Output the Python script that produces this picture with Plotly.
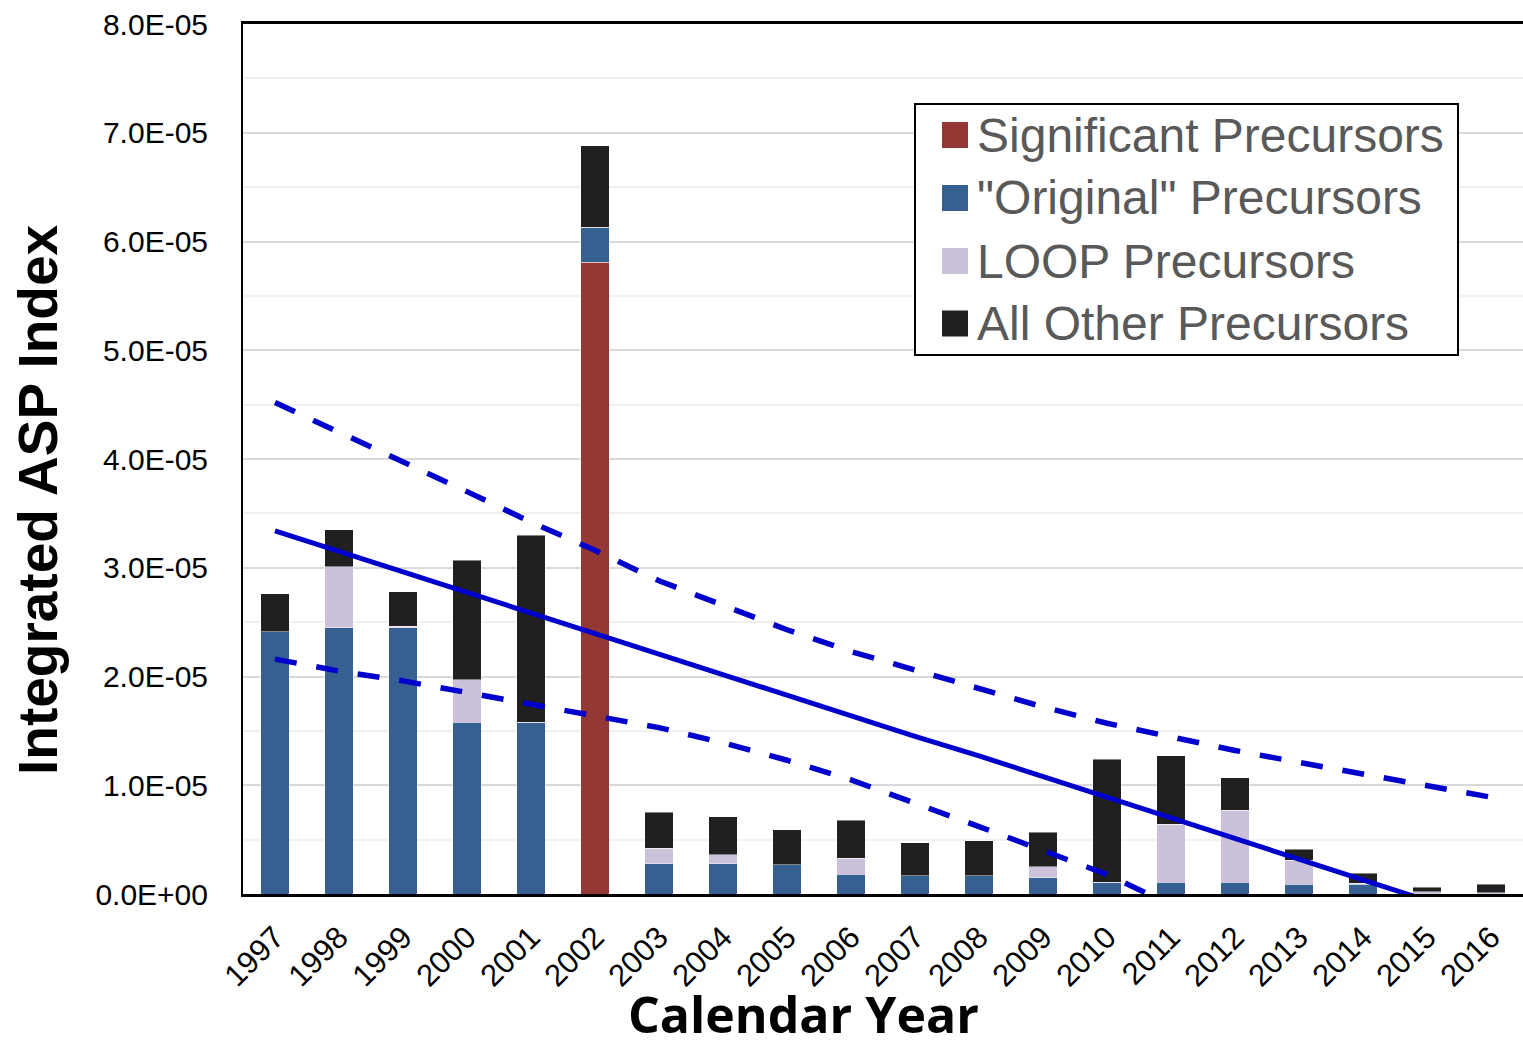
import plotly.graph_objects as go

# Calendar years on the category axis
years = [str(y) for y in range(1997, 2017)]

# Integrated ASP index contributions by precursor type (units of 1E-05)
significant = [0, 0, 0, 0, 0, 5.81, 0, 0, 0, 0, 0, 0, 0, 0, 0, 0, 0, 0, 0, 0]
original = [2.41, 2.45, 2.45, 1.58, 1.58, 0.32, 0.28, 0.28, 0.27, 0.18,
            0.17, 0.17, 0.15, 0.11, 0.11, 0.11, 0.09, 0.09, 0.0, 0.0]
loop = [0.0, 0.56, 0.01, 0.39, 0.0, 0.0, 0.14, 0.08, 0.0, 0.15,
        0.0, 0.0, 0.10, 0.0, 0.53, 0.66, 0.22, 0.01, 0.02, 0.01]
other = [0.35, 0.34, 0.32, 1.10, 1.72, 0.75, 0.33, 0.35, 0.32, 0.35,
         0.30, 0.32, 0.32, 1.13, 0.63, 0.30, 0.10, 0.09, 0.04, 0.08]

# Regression trend and its confidence bounds (units of 1E-05)
trend = [3.34, 3.15, 2.96, 2.77, 2.59, 2.40, 2.21, 2.02, 1.83, 1.64,
         1.45, 1.27, 1.08, 0.89, 0.70, 0.51, 0.32, 0.13, -0.06]
upper = [4.52, 4.25, 3.97, 3.70, 3.42, 3.16, 2.88, 2.65, 2.43, 2.23,
         2.06, 1.88, 1.72, 1.57, 1.44, 1.32, 1.21, 1.10, 1.00, 0.89]
lower = [2.16, 2.05, 1.96, 1.85, 1.75, 1.63, 1.53, 1.39, 1.23, 1.05,
         0.84, 0.62, 0.40, 0.18, -0.10]

# Y axis tick values and labels
y_ticks = [i * 1e-5 for i in range(9)]
y_ticktext = [f"{v:.1E}" for v in y_ticks]

SCALE = 1e-5
series = [
    ("Significant Precursors", significant, "#953735"),
    ('"Original" Precursors', original, "#376092"),
    ("LOOP Precursors", loop, "#ccc1da"),
    ("All Other Precursors", other, "#202020"),
]

fig = go.Figure()
for name, vals, color in series:
    fig.add_trace(go.Bar(
        x=years, y=[v * SCALE for v in vals], name=name,
        marker=dict(color=color, line=dict(color="rgba(255,255,255,0.45)", width=1)),
        width=0.44, showlegend=False,
    ))

line_color = "#0000cc"
dash_style = "22px,20px"
fig.add_trace(go.Scatter(x=years[:len(trend)], y=[v * SCALE for v in trend],
                         mode="lines", line=dict(color=line_color, width=5),
                         showlegend=False))
fig.add_trace(go.Scatter(x=years[:len(upper)], y=[v * SCALE for v in upper],
                         mode="lines", line=dict(color=line_color, width=5.5, dash=dash_style),
                         showlegend=False))
fig.add_trace(go.Scatter(x=years[:len(lower)], y=[v * SCALE for v in lower],
                         mode="lines", line=dict(color=line_color, width=5.5, dash=dash_style),
                         showlegend=False))

# Plot-area geometry in pixels, used to place the legend box
W, H = 1523, 1052
L, R, T, B = 243, 0, 24, 158
pw, ph = W - L - R, H - T - B


def px_x(x):
    return (x - L) / pw


def px_y(y):
    return (H - B - y) / ph


shapes = [dict(type="rect", xref="paper", yref="paper",
               x0=px_x(915), x1=px_x(1458), y0=px_y(355), y1=px_y(104),
               line=dict(color="black", width=2), fillcolor="white", layer="above")]
annotations = []
row_centers = [135, 198, 261, 323.5]
for (name, _, color), yc in zip(series, row_centers):
    shapes.append(dict(type="rect", xref="paper", yref="paper",
                       x0=px_x(942), x1=px_x(968), y0=px_y(yc + 13), y1=px_y(yc - 13),
                       line=dict(width=0), fillcolor=color, layer="above"))
    annotations.append(dict(xref="paper", yref="paper", x=px_x(975), y=px_y(yc),
                            xanchor="left", yanchor="middle", showarrow=False, text=name,
                            font=dict(family="Liberation Sans, Arial", size=48, color="#595959")))

# Axis titles
annotations.append(dict(xref="paper", yref="paper", x=px_x(803), y=px_y(1050),
                        xanchor="center", yanchor="bottom", showarrow=False,
                        text="<b>Calendar Year</b>",
                        font=dict(family="Open Sans, Liberation Sans", size=50, color="black")))
annotations.append(dict(xref="paper", yref="paper", x=px_x(38), y=px_y(500),
                        xanchor="center", yanchor="middle", showarrow=False, textangle=-90,
                        text="<b>Integrated ASP Index</b>",
                        font=dict(family="Liberation Sans, Arial", size=55, color="black")))

fig.update_layout(
    width=W, height=H,
    margin=dict(l=L, r=R, t=T, b=B, pad=0),
    paper_bgcolor="white", plot_bgcolor="white",
    barmode="stack", bargap=0.56,
    shapes=shapes, annotations=annotations,
    font=dict(family="Liberation Sans, Arial", color="black"),
)
fig.update_xaxes(
    type="category", range=[-0.5, 19.5], tickangle=-45,
    showline=True, linecolor="black", linewidth=2.5, mirror=True,
    showgrid=False, ticks="", ticklabelstandoff=10,
    tickfont=dict(size=31, color="black"),
)
fig.update_yaxes(
    range=[0, 8e-5], tickmode="array", tickvals=y_ticks, ticktext=y_ticktext,
    showline=True, linecolor="black", linewidth=2, zeroline=False,
    showgrid=True, gridcolor="#d9d9d9", gridwidth=2,
    minor=dict(tickvals=[(i + 0.5) * 1e-5 for i in range(8)], showgrid=True,
               gridcolor="#f0f0f0", gridwidth=2, ticks=""),
    ticks="", ticklabelstandoff=27,
    tickfont=dict(size=30, color="black"),
)

fig.write_html("out.html", post_script="document.body.style.margin='0px';")
